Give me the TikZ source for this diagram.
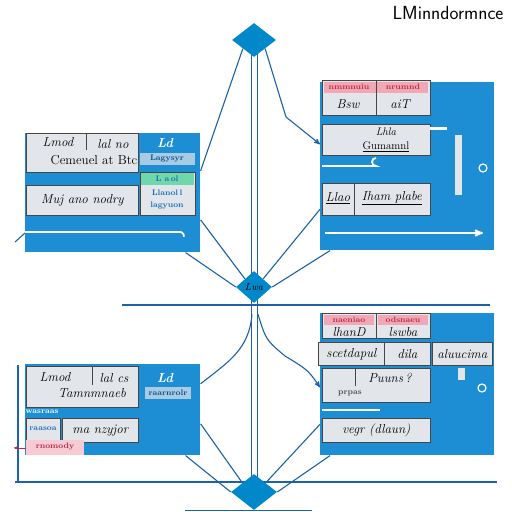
\documentclass[tikz,border=0pt]{standalone}
\usepackage{tikz}
\usetikzlibrary{arrows,shapes.geometric,positioning,backgrounds}
\usepackage{xcolor}
\definecolor{panelblue}{RGB}{30,142,212}
\definecolor{hubblue}{RGB}{0,136,202}
\definecolor{wireblue}{RGB}{28,98,168}
\definecolor{cellgrey}{RGB}{226,229,233}
\definecolor{cellpink}{RGB}{240,168,182}
\definecolor{cellgreen}{RGB}{112,214,172}
\definecolor{inkred}{RGB}{190,40,70}
\definecolor{inkblue}{RGB}{20,110,190}

\begin{document}
\begin{tikzpicture}[x=1pt,y=-1pt,>=stealth',semithick,font=\fontsize{13}{14}\selectfont\itshape]
  \tikzstyle{hub}=[diamond,fill=hubblue,draw=none,inner sep=0pt]
  \tikzstyle{panel}=[rectangle,fill=panelblue,draw=none,anchor=north west,inner sep=0pt]
  \tikzstyle{cell}=[rectangle,fill=cellgrey,draw=gray!55!black,line width=0.7pt,anchor=north west,inner sep=0pt]
  \tikzstyle{wire}=[draw=wireblue,line width=1.1pt]
  \tikzstyle{bar}=[draw=white,line width=1.8pt]
  \tikzstyle{tiny}=[font=\fontsize{8}{9}\selectfont\upshape\bfseries]

  \useasboundingbox (0,0) rectangle (512,512);

  % hubs
  \node[hub,minimum width=44pt,minimum height=34pt] (D1) at (254,40) {};
  \node[hub,minimum width=36pt,minimum height=32pt] (D2) at (254,287) {\fontsize{10}{10}\selectfont Lwa};
  \node[hub,minimum width=46pt,minimum height=36pt] (D3) at (254,492) {};

  % panels
  \node[panel,minimum width=175pt,minimum height=119pt] (P1) at (25,133) {};
  \node[panel,minimum width=174pt,minimum height=168pt] (P2) at (320,82) {};
  \node[panel,minimum width=175pt,minimum height=91pt]  (P3) at (25,364) {};
  \node[panel,minimum width=174pt,minimum height=142pt] (P4) at (320,313) {};

  \node[anchor=east,font=\fontsize{19}{20}\selectfont\sffamily] (T) at (507,13) {LMinndormnce};

  % top left panel
  \node[cell,minimum width=112pt,minimum height=39pt] (A1) at (26,133) {};
  \draw[gray!55!black,line width=0.7pt] (86,133) -- (86,150);
  \node (a1) at (58,142) {Lmod};
  \node (a2) at (113,144) {lal no};
  \node (a3) at (94,160) {\upshape Cemeuel at Btc};
  \node[white,font=\fontsize{13}{14}\selectfont\bfseries\itshape] (a4) at (165,143) {Ld};
  \node[cell,draw=none,fill=cellgrey!70!panelblue,minimum width=55pt,minimum height=12pt] (A2) at (140,153) {};
  \node[tiny,inkblue!70!black] (a5) at (167,159) {Lagysyr};
  \node[cell,minimum width=55pt,minimum height=43pt] (A3) at (140,172) {};
  \node[cell,draw=none,fill=cellgreen,minimum width=53pt,minimum height=12pt] (A4) at (141,173) {};
  \node[tiny,inkblue] (a6) at (167,179) {L a\,ol};
  \node[tiny,inkblue] (a7) at (167,193) {Llanol\,l};
  \node[tiny,inkblue] (a8) at (167,206) {lagyuon};
  \node[cell,minimum width=112pt,minimum height=30pt] (A5) at (26,185) {Muj ano nodry};
  \draw[bar] (P1.west |- 0,232) -- (180,232) arc (-90:10:4);

  % top right panel
  \node[cell,minimum width=108pt,minimum height=35pt] (B1) at (322,80) {};
  \node[cell,draw=none,fill=cellpink,minimum width=104pt,minimum height=11pt] (B1h) at (324,82) {};
  \draw[gray!55!black,line width=0.7pt] (376,80) -- (376,115);
  \node[tiny,inkred] (b1) at (349,87) {nmmnuiu};
  \node[tiny,inkred] (b2) at (403,87) {nrumnd};
  \node (b3) at (348,104) {Bsw};
  \node (b4) at (400,104) {aiT};
  \node[cell,minimum width=108pt,minimum height=31pt] (B2) at (322,124) {};
  \node[font=\fontsize{11}{12}\selectfont\itshape] (b5) at (386,132) {Lhla};
  \node[font=\fontsize{11}{12}\selectfont] (b6) at (386,147) {\underline{Gumamnl}};
  \draw[bar,line width=3pt] (430,128) -- (447,128);
  \draw[bar] (322,166) -- (376,166) arc (-90:90:-4);
  \node[cell,minimum width=108pt,minimum height=32pt] (B3) at (322,183) {};
  \draw[gray!55!black,line width=0.7pt] (354,183) -- (354,215);
  \node (b7) at (338,198) {\underline{Llao}};
  \node (b8) at (392,198) {\underline{Iham plabe}};
  \node[cell,draw=none,fill=cellgrey,minimum width=7pt,minimum height=60pt] (B4) at (455,135) {};
  \draw[white,line width=1.2pt] (483,168) circle (4);
  \draw[bar,->] (325,233) -- (483,233);

  % bottom left panel
  \node[cell,minimum width=112pt,minimum height=41pt] (C1) at (26,366) {};
  \draw[gray!55!black,line width=0.7pt] (92,366) -- (92,385);
  \node (c1) at (55,377) {Lmod};
  \node (c2) at (114,378) {lal cs};
  \node (c3) at (92,393) {Tamnmnaeb};
  \node[white,font=\fontsize{13}{14}\selectfont\bfseries\itshape] (c4) at (165,378) {Ld};
  \node[tiny,inkblue!70!black,fill=cellgrey!70!panelblue] (c5) at (168,393) {raarnrolr};
  \node[tiny,white] (c6) at (42,412) {wasraas};
  \node[cell,minimum width=34pt,minimum height=22pt] (C2) at (26,418) {};
  \node[tiny,inkblue] (c7) at (43,429) {raasoa};
  \node[cell,minimum width=76pt,minimum height=24pt] (C3) at (62,418) {ma nzyjor};
  \node[cell,draw=none,fill=cellpink!60!white,minimum width=58pt,minimum height=15pt] (C4) at (26,440) {};
  \node[tiny,inkred] (c8) at (55,447) {rnomody};
  \draw[->,inkred,thin] (C4.west) -- ++(-12,0);

  % bottom right panel
  \node[cell,minimum width=108pt,minimum height=25pt] (E1) at (322,313) {};
  \node[cell,draw=none,fill=cellpink,minimum width=50pt,minimum height=10pt] (E1a) at (324,315) {};
  \node[cell,draw=none,fill=cellpink,minimum width=50pt,minimum height=10pt] (E1b) at (378,315) {};
  \draw[gray!55!black,line width=0.7pt] (376,313) -- (376,338);
  \node[tiny,inkred] (e1) at (349,320) {naeniao};
  \node[tiny,inkred] (e2) at (403,320) {odsnaeu};
  \node (e3) at (349,332) {lhanD};
  \node (e4) at (403,332) {lswba};
  \node[cell,minimum width=66pt,minimum height=23pt] (E2) at (318,342) {scetdapul};
  \node[cell,minimum width=46pt,minimum height=23pt] (E3) at (384,342) {dila};
  \node[cell,minimum width=60pt,minimum height=23pt] (E4) at (432,342) {aluucima};
  \node[cell,minimum width=108pt,minimum height=34pt] (E5) at (322,368) {};
  \draw[gray!55!black,line width=0.7pt] (355,368) -- (355,386);
  \node (e5) at (390,378) {Puuns\,?};
  \node[tiny,gray!60!black] (e6) at (350,393) {prpas};
  \node[cell,draw=none,fill=cellgrey,minimum width=7pt,minimum height=12pt] (E6) at (458,368) {};
  \draw[white,line width=1.2pt] (482,388) circle (4);
  \draw[bar] (322,410) -- (380,410);
  \node[cell,minimum width=108pt,minimum height=24pt] (E7) at (322,418) {vegr (dlaun)};

  % connectors
  \begin{scope}[on background layer]
    \fill[white] (0,0) rectangle (512,512);
    \coordinate (h1l) at (122,305);
    \coordinate (h1r) at (490,305);
    \coordinate (h2l) at (15,482);
    \coordinate (h2r) at (497,482);
    \coordinate (v1t) at (18,365);
    \coordinate (t1) at (15,242);

    \draw[wire,line width=0.8pt] ([xshift=-3pt]D1.center) -- ([xshift=-3pt]D3.center);
    \draw[wire,line width=0.8pt] ([xshift=3pt]D1.center) -- ([xshift=3pt]D3.center);

    \draw[wire] (D1.south west) -- ([yshift=22pt]P1.east);
    \draw[wire,->] (D1.south east) -- (286,117) -- ([yshift=22pt]P2.west);
    \draw[wire] ([yshift=-27pt]P1.east) -- (D2.north west);
    \draw[wire] ([xshift=-15pt]P1.south east) -- (D2.west);
    \draw[wire] ([yshift=-43pt]P2.west) -- (D2.north east);
    \draw[wire] ([xshift=10pt]P2.south west) -- (D2.east);

    \draw[wire] (h1l) -- (h1r);
    \draw[wire] ([xshift=-2pt,yshift=-11pt]D2.south) .. controls (249,350) and (228,362) .. ([yshift=26pt]P3.east);
    \draw[wire,->] ([xshift=4pt,yshift=-11pt]D2.south) .. controls (266,340) .. (285,356) .. controls (308,370) .. ([yshift=-3pt]P4.west);

    \draw[wire] ([yshift=-14pt]P3.east) -- (D3.north west);
    \draw[wire] ([xshift=-15pt]P3.south east) -- (D3.west);
    \draw[wire] ([yshift=-40pt]P4.west) -- (D3.north east);
    \draw[wire] ([xshift=10pt]P4.south west) -- (D3.east);

    \draw[wire] (h2l) -- (h2r);
    \draw[wire] (v1t) -- (v1t |- h2l);
    \draw[wire] (t1) -- (P1.west |- 0,233);
    \draw[wire] ([xshift=-69pt]D3.south) -- ([xshift=58pt]D3.south);
  \end{scope}
\end{tikzpicture}
\end{document}
